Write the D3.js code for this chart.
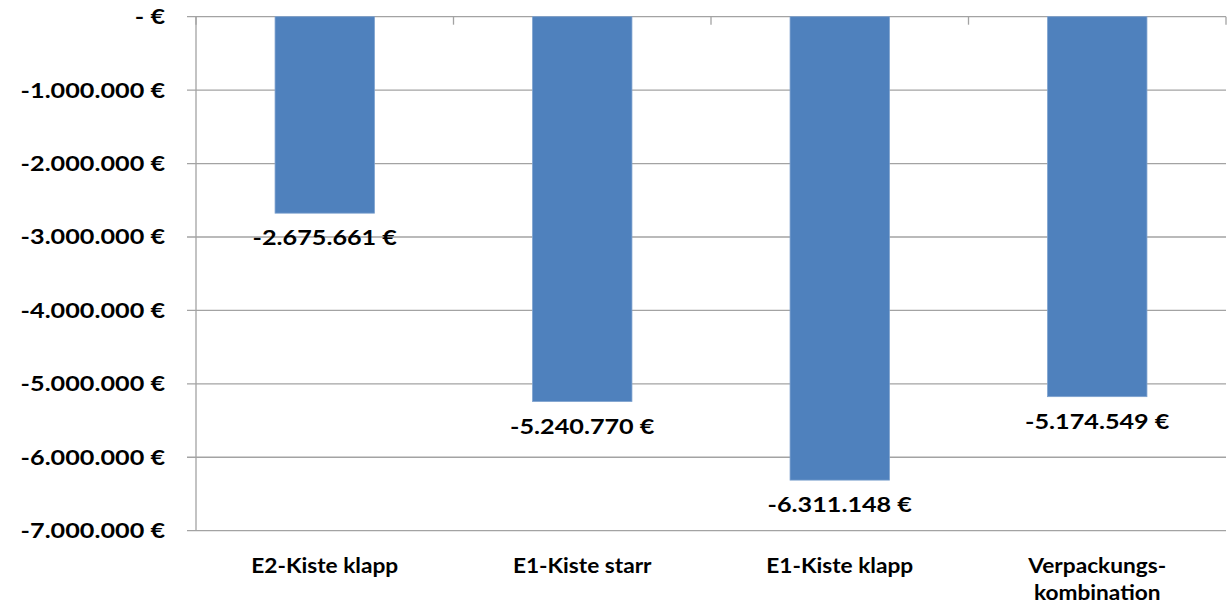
<!DOCTYPE html>
<html>
<head>
<meta charset="utf-8">
<script src="https://cdn.jsdelivr.net/npm/d3@7"></script>
<style>
  html, body { margin: 0; padding: 0; background: #ffffff; }
  svg { display: block; }
  text { font-family: Lato, "Open Sans", sans-serif; font-weight: 700; fill: #000; }
</style>
</head>
<body>
<svg id="chart" width="1230" height="606"></svg>
<script>
// Savings per packaging variant (EUR)
const categories = [["E2-Kiste klapp"], ["E1-Kiste starr"], ["E1-Kiste klapp"], ["Verpackungs-", "kombination"]];
const values = [-2675661, -5240770, -6311148, -5174549];
const yTicks = [0, -1000000, -2000000, -3000000, -4000000, -5000000, -6000000, -7000000];

const plot = { left: 196, right: 1226, top: 16.7, bottom: 530.7 };
const numStretch = 1.2;   // horizontal stretch for numeric labels
const catStretch = 1.08;  // horizontal stretch for category labels

const svg = d3.select("#chart");

const keys = categories.map(c => c.join(" "));
const x = d3.scaleBand().domain(keys).range([plot.left, plot.right]).padding(0);
const y = d3.scaleLinear().domain([-7000000, 0]).range([plot.bottom, plot.top]);

// German number format: thousands separated by dots
const de = d3.formatLocale({ decimal: ",", thousands: ".", grouping: [3], currency: ["", " €"] });
const fmt = v => v === 0 ? "- €" : de.format(",.0f")(v).replace("−", "-") + " €";

const gridColor = "#a3a3a3";

// horizontal gridlines incl. left tick stubs
svg.append("g").selectAll("line").data(yTicks).join("line")
  .attr("x1", plot.left - 9).attr("x2", plot.right)
  .attr("y1", d => y(d)).attr("y2", d => y(d))
  .attr("stroke", gridColor).attr("stroke-width", 1.3);

// value axis line
svg.append("line")
  .attr("x1", plot.left).attr("x2", plot.left)
  .attr("y1", plot.top).attr("y2", plot.bottom)
  .attr("stroke", gridColor).attr("stroke-width", 1.3);

// category tick marks on the zero line
const bounds = keys.map(k => x(k)).concat([plot.right]);
svg.append("g").selectAll("line").data(bounds).join("line")
  .attr("x1", d => d).attr("x2", d => d)
  .attr("y1", plot.top).attr("y2", plot.top + 8)
  .attr("stroke", gridColor).attr("stroke-width", 1.3);

// y tick labels
svg.append("g").selectAll("text").data(yTicks).join("text")
  .attr("transform", d => `translate(165,${y(d) + 7.5}) scale(${numStretch},1)`)
  .attr("text-anchor", "end")
  .style("font-size", "21px")
  .text(d => fmt(d));

// bars
const barW = x.bandwidth() * 0.386;
svg.append("g").selectAll("rect").data(values).join("rect")
  .attr("x", (d, i) => x(keys[i]) + x.bandwidth() / 2 - barW / 2)
  .attr("width", barW)
  .attr("y", d => y(0))
  .attr("height", d => y(d) - y(0))
  .attr("fill", "#4f81bd")
  .attr("stroke", "#7ea2cf").attr("stroke-width", 0.8);

// value labels below bar ends
svg.append("g").selectAll("text").data(values).join("text")
  .attr("transform", (d, i) => `translate(${x(keys[i]) + x.bandwidth() / 2},${y(d) + 32}) scale(${numStretch},1)`)
  .attr("text-anchor", "middle")
  .style("font-size", "21px")
  .text(d => fmt(d));

// category labels
const cat = svg.append("g").selectAll("text").data(categories).join("text")
  .attr("transform", (d, i) => `translate(${x(keys[i]) + x.bandwidth() / 2},573) scale(${catStretch},1)`)
  .attr("text-anchor", "middle")
  .style("font-size", "21px");
cat.selectAll("tspan").data(d => d).join("tspan")
  .attr("x", 0).attr("dy", (d, j) => j === 0 ? 0 : 27)
  .text(d => d);
</script>
</body>
</html>
